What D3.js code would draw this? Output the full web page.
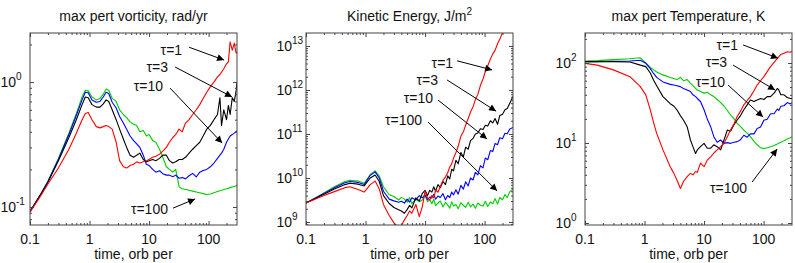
<!DOCTYPE html>
<html>
<head>
<meta charset="utf-8">
<script src="https://cdn.jsdelivr.net/npm/d3@7"></script>
<style>
  body { margin: 0; background: #fff; }
  svg { display: block; font-family: "Liberation Sans", Arial, Helvetica, sans-serif; }
</style>
</head>
<body>
<svg id="chart" width="795" height="263"></svg>
<script>
// ---- data ----
const tauLabels = ["τ=1", "τ=3", "τ=10", "τ=100"];
const tauColors = ["#ff0000", "#000000", "#0000ff", "#00cc00"];

// max perturbation vorticity, rad/yr
const vortTime = [0.1, 0.15, 0.2, 0.3, 0.45, 0.6, 0.75, 0.85, 0.95, 1.1, 1.3, 1.5, 1.7, 1.9, 2.1, 2.4, 2.8, 3.2, 3.7, 4.2,
  4.8, 5.5, 6.2, 7, 8, 9, 10, 11.5, 13, 15, 17, 19.5, 22, 25, 28, 32, 36, 41, 47, 54, 62, 71, 81, 93, 107, 123, 141,
  155, 165, 180, 200, 215, 230, 250, 270, 290, 300];
const vortTau1 = [.091, .122, .153, .205, .29, .39, .5, .56, .57, .5, .44, .43, .44, .45, .44, .42, .33, .235, .21, .205,
  .215, .22, .23, .225, .23, .235, .24, .25, .255, .265, .28, .3, .33, .36, .38, .42, .4, .47, .5, .55, .6, .66, .74, .83,
  .92, 1.0, 1.1, 1.15, 1.2, 1.28, 1.4, 1.45, 2.1, 1.8, 2.05, 1.7, 1.75];
const vortTau3 = [.092, .125, .158, .235, .36, .5, .66, .76, .75, .66, .63, .63, .67, .72, .7, .6, .5, .42, .35, .3,
  .26, .25, .26, .27, .24, .23, .235, .24, .235, .245, .26, .26, .235, .225, .23, .24, .24, .25, .27, .29, .31, .33, .37,
  .42, .45, .5, .55, .75, .45, .6, .5, .65, .55, .75, .7, .85, 1.0];
const vortTau10 = [.092, .126, .16, .24, .38, .54, .72, .83, .82, .72, .69, .7, .76, .83, .81, .69, .62, .53, .47, .42,
  .37, .34, .32, .3, .26, .22, .215, .2, .19, .195, .185, .18, .18, .175, .18, .17, .172, .168, .178, .186, .174, .19,
  .196, .2, .21, .225, .245, .26, .27, .29, .33, .35, .37, .38, .39, .4, .41];
const vortTau100 = [.092, .126, .16, .245, .39, .56, .76, .86, .85, .76, .72, .74, .8, .88, .86, .74, .7, .6, .55, .52,
  .48, .46, .45, .4, .41, .37, .38, .34, .33, .29, .25, .21, .2, .19, .2, .145, .14, .138, .136, .134, .132, .13, .128,
  .126, .127, .13, .133, .135, .136, .138, .14, .141, .143, .145, .146, .148, .15];

// kinetic energy, in units of 1e9 J/m^2
const KE_UNIT = 1e9;
const keTime = [0.1, 0.2, 0.3, 0.45, 0.55, 0.75, 0.95, 1.2, 1.45, 1.7, 2, 2.5, 3, 3.6, 4, 4.5, 5, 5.5, 6, 7, 8, 9,
  10, 11, 12, 13, 14, 15, 16.5, 18, 20, 22, 24, 26, 28, 30, 33, 36, 40, 44, 48, 53, 58, 64, 70, 77, 85, 94, 103, 113,
  125, 137, 150, 165, 180, 200, 220, 240, 265, 300];
const keTau1 = [2.69, 3.98, 4.9, 6.03, 6.31, 5.5, 4.79, 7.08, 8.51, 5.62, 2.51, 1.41, 0.955, 0.759, 0.832, 1.12, 1.41,
  1.78, 1.58, 2.51, 1.32, 2.24, 5.01, 3.55, 3.16, 3.98, 3.55, 5.25, 4.79, 6.31, 8.91, 10.5, 13.2, 17.8, 20.9, 28.2, 38.0,
  52.5, 89.1, 112, 158, 224, 316, 417, 603, 794, 1259, 1778, 2630, 3548, 5012, 6607, 7943, 11220, 14125, 19953, 28184,
  null, null, null];
const keTau3 = [2.69, 4.27, 5.62, 7.08, 7.59, 7.24, 6.61, 10, 11.7, 8.32, 3.98, 2.63, 2.14, 1.91, 1.78, 1.58, 1.91, 2.4,
  2.09, 3.55, 3.02, 4.47, 5.25, 3.98, 5.25, 4.79, 6.31, 5.01, 7.08, 6.03, 8.32, 7.08, 11.2, 9.5, 15.8, 14.5, 25.1, 21,
  38, 30, 50.1, 45, 70.8, 79.4, 100, 105, 132, 126, 158, 151, 200, 178, 224, 166, 263, 282, 355, 380, 501, 708];
const keTau10 = [2.69, 4.47, 6.03, 7.76, 8.32, 7.94, 7.08, 11.5, 13.8, 10, 5.01, 3.31, 3.02, 2.82, 2.95, 2.69, 3.31,
  2.82, 3.55, 3.16, 3.98, 3.55, 4.17, 3.2, 3.7, 3.5, 4.3, 3.3, 3.9, 3.6, 4.4, 3.2, 4.0, 3.6, 4.8, 4.1, 5.4, 4.3, 6.8,
  5.6, 8.2, 6.6, 10.0, 9.0, 13.5, 11.8, 19.0, 17.0, 28.5, 26.0, 42.0, 40.0, 61.0, 57.0, 82.0, 78.0, 104, 101, 130, 141];
const keTau100 = [2.69, 4.57, 6.31, 8.32, 8.91, 8.51, 7.59, 12.0, 14.5, 11.2, 6.31, 4.17, 3.8, 3.16, 3.63, 3.31, 2.82,
  3.55, 2.63, 3.31, 2.88, 3.16, 3.98, 2.9, 3.2, 2.6, 3.3, 2.35, 2.7, 3.0, 2.2, 2.8, 2.45, 2.05, 2.9, 2.3, 2.5, 2.0,
  2.75, 2.4, 2.15, 2.8, 2.2, 2.55, 2.05, 2.7, 2.4, 2.3, 2.95, 2.25, 2.85, 2.6, 3.4, 2.55, 3.6, 3.2, 4.2, 3.6, 4.9, 5.6];

// max perturbation temperature, K
const tempTime = [0.1, 0.16, 0.3, 0.57, 0.85, 1.05, 1.25, 1.42, 1.6, 2.04, 2.7, 3.1, 3.5, 4, 4.5, 5.2, 5.9, 6.5, 7.2,
  7.7, 8.7, 10, 11.3, 12.9, 14.6, 16.6, 19, 21.6, 24.6, 27.8, 32, 36, 41, 46.5, 53, 60, 69, 78, 89, 101, 115, 131, 150,
  170, 180, 195, 220, 250, 280, 300];
const tempTau1 = [99, 94, 82, 67.5, 50.6, 40, 26, 18, 13.2, 8.2, 5.06, 4.2, 3.45, 2.7, 3.3, 3.8, 4.17, 4.0, 4.4, 4.3,
  5.6, 5.06, 6.1, 6.7, 7.5, 8.2, 9, 9.9, 12, 14.5, 17.5, 21.4, 25, 30, 34, 38, 45, 53, 60, 67.5, 78, 90, 102, 114, 120,
  128, 132, 138, 136, 140];
const tempTau3 = [104, 104, 104, 103, 94, 90, 75, 61, 52, 38, 31, 29, 26, 22, 19.4, 16, 10.9, 9.0, 7.4, 8.2, 9, 9.9,
  8.6, 8.6, 9.5, 9, 8.2, 10.9, 14.5, 14, 17, 19.4, 22, 26, 30, 34.5, 33, 34.5, 36, 35, 38, 38, 42, 48, 46, 40, 40, 37,
  36, 36];
const tempTau10 = [104, 104, 105, 106, 108, 99, 85, 74, 66, 58, 54, 53, 52, 50.6, 48, 46, 44, 40, 38, 36, 33, 26, 20,
  16, 12, 10.2, 10.9, 9.9, 10.1, 9.9, 10.2, 10.4, 11, 12.5, 11.8, 13, 13, 15.2, 15.8, 19.2, 19.8, 23.2, 23.2, 26.6, 25.5,
  28.8, 29.2, 32, 30.8, 32];
const tempTau100 = [106, 107, 110, 113, 116, 100, 88, 82, 77, 71, 66, 64, 62, 66, 60, 62, 56, 52, 48, 46, 44, 42, 43,
  40, 38, 35, 32, 29, 25.5, 22.4, 20, 17.6, 16, 14.5, 13.3, 12, 10.5, 9.5, 8.7, 8.5, 8.7, 9.0, 9.3, 9.7, 9.9, 10.2, 10.7,
  11.2, 11.6, 11.9];

// annotation points in data units: label end [t, v] and arrow [t0, v0, t1, v1]
const vortLabelAt = [[35.9, 1.8], [20.8, 1.32], [17.2, 0.93], [20.8, 0.0964]];
const vortArrows = [[47, 1.9, 182, 1.5], [27.4, 1.32, 248, 0.76], [22.5, 0.895, 169, 0.325], [25.3, 0.098, 59.3, 0.116]];
const keLabelAt = [[29.6, 4100], [16.5, 1690], [13.6, 660], [8.9, 210]];
const keArrows = [[34.5, 4600, 134, 2850], [23.4, 1690, 156, 330], [16.5, 590, 110, 77], [11.2, 187, 162, 5.1]];
const tempLabelAt = [[37.2, 168], [24.4, 103], [22.5, 57.9], [52.8, 2.74]];
const tempArrows = [[45.2, 168, 175, 115], [30.7, 94, 156, 46], [25.3, 53, 98, 21.1], [64, 3.25, 169, 8.4]];

const timeDomain = [0.1, 300];
const timeTicks = [0.1, 1, 10, 100];

// ---- layout ----
const svg = d3.select("#chart");
const W = 207, H = 192, TOP = 33;

const panels = [
  { left: 30, title: "max pert vorticity, rad/yr", sup: null, time: vortTime, unit: 1,
    series: [vortTau100, vortTau10, vortTau3, vortTau1], yDomain: [0.0718, 2.47],
    labelAt: vortLabelAt, arrows: vortArrows },
  { left: 306, title: "Kinetic Energy, J/m", sup: "2", time: keTime, unit: KE_UNIT,
    series: [keTau100, keTau10, keTau3, keTau1], yDomain: [8.55e8, 1.97e13],
    labelAt: keLabelAt, arrows: keArrows },
  { left: 585, title: "max pert Temperature, K", sup: null, time: tempTime, unit: 1,
    series: [tempTau100, tempTau10, tempTau3, tempTau1], yDomain: [0.944, 237],
    labelAt: tempLabelAt, arrows: tempArrows }
];
// series are stored green→red so red is drawn last
const seriesColors = tauColors.slice().reverse();

svg.append("defs").append("marker")
  .attr("id", "head")
  .attr("viewBox", "0 0 10 10")
  .attr("refX", 10).attr("refY", 5)
  .attr("markerWidth", 9).attr("markerHeight", 7)
  .attr("markerUnits", "userSpaceOnUse")
  .attr("orient", "auto")
  .append("path")
  .attr("d", "M0,0 L10,5 L0,10 z")
  .attr("fill", "#000");

function minorTicks(domain) {
  const out = [];
  const lo = Math.floor(Math.log10(domain[0])), hi = Math.ceil(Math.log10(domain[1]));
  for (let e = lo; e <= hi; e++) {
    for (let k = 2; k <= 9; k++) {
      const v = k * Math.pow(10, e);
      if (v > domain[0] && v < domain[1]) out.push(v);
    }
  }
  return out;
}
function decades(domain) {
  const out = [];
  for (let e = Math.ceil(Math.log10(domain[0])); e <= Math.floor(Math.log10(domain[1])); e++) out.push(e);
  return out;
}

panels.forEach((p, pi) => {
  const x = d3.scaleLog().domain(timeDomain).range([0, W]);
  const y = d3.scaleLog().domain(p.yDomain).range([H, 0]);
  const g = svg.append("g").attr("transform", `translate(${p.left},${TOP})`);

  g.append("clipPath").attr("id", "clip" + pi)
    .append("rect").attr("width", W).attr("height", H);

  // curves
  const line = d3.line()
    .defined(d => d[1] != null)
    .x(d => x(d[0]))
    .y(d => y(d[1]));
  p.series.forEach((vals, si) => {
    const pts = p.time.map((t, i) => [t, vals[i] == null ? null : vals[i] * p.unit]);
    g.append("path")
      .datum(pts)
      .attr("clip-path", `url(#clip${pi})`)
      .attr("fill", "none")
      .attr("stroke", seriesColors[si])
      .attr("stroke-width", 1.1)
      .attr("stroke-linejoin", "round")
      .attr("d", line);
  });

  // box and ticks (inward, on all four sides)
  const yMajor = decades(p.yDomain).map(e => Math.pow(10, e));
  const axes = [
    [d3.axisBottom(x), `translate(0,${H})`, timeTicks, minorTicks(timeDomain)],
    [d3.axisTop(x), null, timeTicks, minorTicks(timeDomain)],
    [d3.axisLeft(y), null, yMajor, minorTicks(p.yDomain)],
    [d3.axisRight(y), `translate(${W},0)`, yMajor, minorTicks(p.yDomain)]
  ];
  axes.forEach(([ax, tr, major, minor]) => {
    [[major, 4], [minor, 2]].forEach(([vals, len]) => {
      const a = g.append("g")
        .call(ax.tickValues(vals).tickSize(-len).tickFormat(""));
      if (tr) a.attr("transform", tr);
      a.select(".domain").remove();
      a.selectAll("line").attr("stroke", "#444");
    });
  });
  g.append("rect")
    .attr("width", W).attr("height", H)
    .attr("fill", "none").attr("stroke", "#444").attr("stroke-width", 1);

  // x tick labels
  g.selectAll(".xlab").data(timeTicks).enter().append("text")
    .attr("x", d => x(d)).attr("y", H + 19)
    .attr("text-anchor", "middle")
    .attr("font-size", 14).attr("fill", "#111")
    .text(d => d3.format("~g")(d));

  // y tick labels, 10^n
  const ylab = g.selectAll(".ylab").data(decades(p.yDomain)).enter().append("g")
    .attr("transform", e => `translate(-14,${y(Math.pow(10, e))})`);
  ylab.append("text").attr("text-anchor", "end").attr("y", 5)
    .attr("font-size", 14).attr("fill", "#111").text("10");
  ylab.append("text").attr("text-anchor", "start").attr("y", -2)
    .attr("font-size", 10).attr("fill", "#111").text(e => e);

  // titles
  const title = g.append("text")
    .attr("x", W / 2).attr("y", 21 - TOP)
    .attr("text-anchor", "middle").attr("font-size", 14).attr("fill", "#111")
    .text(p.title);
  if (p.sup) title.append("tspan").attr("dy", -6).attr("font-size", 10).text(p.sup);

  g.append("text")
    .attr("x", W / 2).attr("y", 259 - TOP)
    .attr("text-anchor", "middle").attr("font-size", 14).attr("fill", "#111")
    .text("time, orb per");

  // tau annotations
  p.arrows.forEach((a, i) => {
    g.append("line")
      .attr("x1", x(a[0])).attr("y1", y(a[1] * p.unit))
      .attr("x2", x(a[2])).attr("y2", y(a[3] * p.unit))
      .attr("stroke", "#000").attr("stroke-width", 1)
      .attr("marker-end", "url(#head)");
    const at = p.labelAt[i];
    g.append("text")
      .attr("x", x(at[0])).attr("y", y(at[1] * p.unit))
      .attr("dy", "0.35em")
      .attr("text-anchor", "end").attr("font-size", 14).attr("fill", "#111")
      .text(tauLabels[i]);
  });
});
</script>
</body>
</html>
